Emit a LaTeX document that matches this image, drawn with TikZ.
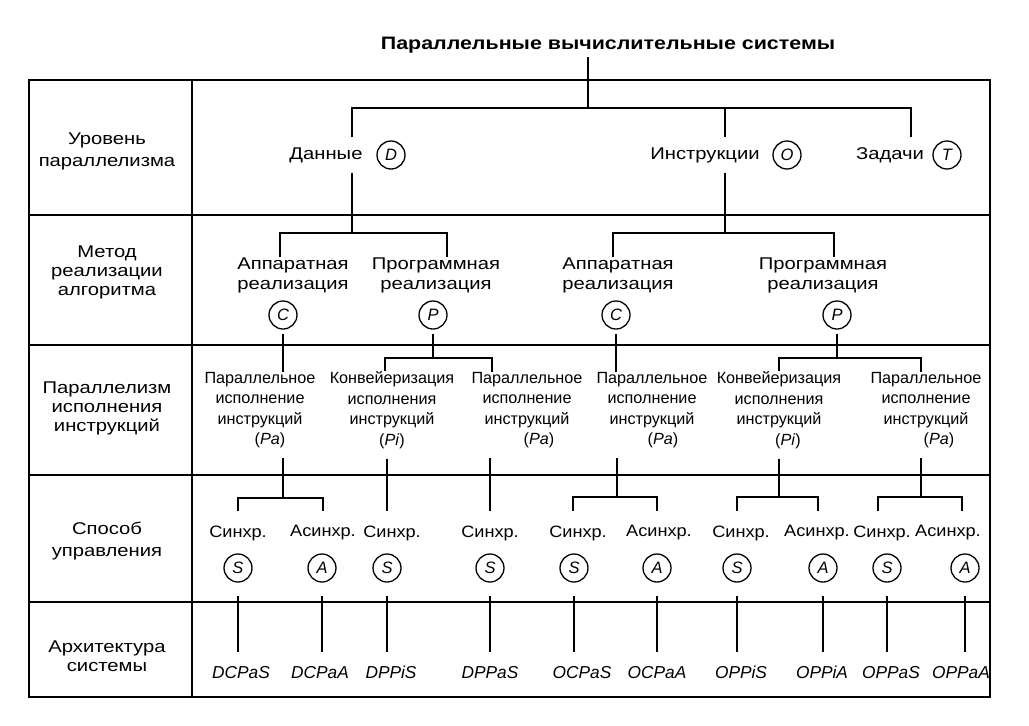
\documentclass[tikz,border=0pt]{standalone}
\usepackage{fontspec}
\setmainfont{Liberation Sans}
\newfontfamily\widefont[FakeStretch=1.19]{Liberation Sans}
\newfontfamily\midfont[FakeStretch=1.1]{Liberation Sans}
\begin{document}
\begin{tikzpicture}[x=1pt,y=-1pt,
 ln/.style={line width=1.6pt},
 frame/.style={line width=2pt},
 rowln/.style={line width=1.4pt},
 txt/.style={font=\fontsize{16.2}{20.5}\selectfont, align=center, inner sep=0pt},
 wtxt/.style={txt, font=\widefont\fontsize{17}{20}\selectfont},
 hd/.style={txt, font=\widefont\fontsize{17}{19}\selectfont},
 hdw/.style={txt, font=\widefont\fontsize{17}{22}\selectfont},
 ttl/.style={font=\widefont\bfseries\fontsize{18}{21}\selectfont, inner sep=4pt},
 circ/.style={circle, draw, line width=1.3pt, minimum size=28pt, inner sep=0pt, font=\itshape\fontsize{16.5}{16.5}\selectfont},
 r1/.style={wtxt, minimum height=35pt},
 r4/.style={wtxt, minimum height=44pt, font=\midfont\fontsize{16.5}{20}\selectfont},
 r5/.style={inner sep=0pt, minimum height=40pt, text height=12.5pt, text depth=0pt, font=\itshape\fontsize{17.3}{20}\selectfont},
]
\useasboundingbox (0,0) rectangle (1029,726);

% table
\draw[frame] (29,80) rectangle (990,697);
\draw[rowln] (192,80) -- (192,697);
\foreach \yy in {215,345,475,602} \draw[rowln] (29,\yy) -- (990,\yy);

% title
\node[ttl] (title) at (608,45) {Параллельные вычислительные системы};

% left column
\node[hdw] (h1) at (107,151) {Уровень\\параллелизма};
\node[hd] (h2) at (107,272) {Метод\\реализации\\алгоритма};
\node[hd] (h3) at (107,408) {Параллелизм\\исполнения\\инструкций};
\node[hdw] (h4) at (107,541) {Способ\\управления};
\node[hd] (h5) at (107,656) {Архитектура\\системы};

% row 1
\node[r1] (dan) at (326,155) {Данные};
\node[circ] (cD) at (391,155) {D};
\node[r1] (ins) at (705,155) {Инструкции};
\node[circ] (cO) at (787,155) {O};
\node[r1] (zad) at (890,155) {Задачи};
\node[circ] (cT) at (947,155) {T};

% row 2
\node[wtxt] (ap1) at (293,275) {Аппаратная\\реализация};
\node[circ] (cC1) at (283,315) {C};
\node[wtxt] (pr1) at (436,275) {Программная\\реализация};
\node[circ] (cP1) at (433,315) {P};
\node[wtxt] (ap2) at (618,275) {Аппаратная\\реализация};
\node[circ] (cC2) at (616,315) {C};
\node[wtxt] (pr2) at (823,275) {Программная\\реализация};
\node[circ] (cP2) at (837,315) {P};

% row 3
\node[txt] (pe1) at (260,410) {Параллельное\\исполнение\\инструкций\\\hspace*{20pt}(\textit{Pa})};
\node[txt] (pe2) at (392,410) {Конвейеризация\\исполнения\\инструкций\\(\textit{Pi})};
\node[txt] (pe3) at (527,410) {Параллельное\\исполнение\\инструкций\\\hspace*{24pt}(\textit{Pa})};
\node[txt] (pe4) at (652,410) {Параллельное\\исполнение\\инструкций\\\hspace*{22pt}(\textit{Pa})};
\node[txt] (pe5) at (779,410) {Конвейеризация\\исполнения\\инструкций\\\hspace*{18pt}(\textit{Pi})};
\node[txt] (pe6) at (926,410) {Параллельное\\исполнение\\инструкций\\\hspace*{26pt}(\textit{Pa})};

% row 4
\node[r4] (s1) at (238,533) {Синхр.};
\node[r4] (a1) at (323,533) {Асинхр.};
\node[r4] (s2) at (392,533) {Синхр.};
\node[r4] (s3) at (490,533) {Синхр.};
\node[r4] (s4) at (578,533) {Синхр.};
\node[r4] (a4) at (659,533) {Асинхр.};
\node[r4] (s5) at (741,533) {Синхр.};
\node[r4] (a5) at (817,533) {Асинхр.};
\node[r4] (s6) at (882,533) {Синхр.};
\node[r4] (a6) at (948,533) {Асинхр.};

\node[circ] (cs1) at (238,568) {S};
\node[circ] (ca1) at (322,568) {A};
\node[circ] (cs2) at (387,568) {S};
\node[circ] (cs3) at (490,568) {S};
\node[circ] (cs4) at (574,568) {S};
\node[circ] (ca4) at (657,568) {A};
\node[circ] (cs5) at (737,568) {S};
\node[circ] (ca5) at (823,568) {A};
\node[circ] (cs6) at (887,568) {S};
\node[circ] (ca6) at (965,568) {A};

% row 5
\node[r5] (l1) at (241,672) {DCPaS};
\node[r5] (l2) at (320,672) {DCPaA};
\node[r5] (l3) at (391,672) {DPPiS};
\node[r5] (l4) at (490,672) {DPPaS};
\node[r5] (l5) at (582,672) {OCPaS};
\node[r5] (l6) at (657,672) {OCPaA};
\node[r5] (l7) at (741,672) {OPPiS};
\node[r5] (l8) at (822,672) {OPPiA};
\node[r5] (l9) at (891,672) {OPPaS};
\node[r5] (l10) at (961,672) {OPPaA};

% tree level 1
\coordinate (j0) at (588,108);
\coordinate (jD) at (352,108);
\coordinate (jO) at (725,108);
\coordinate (jT) at (911,108);
\draw[ln] (title.south -| j0) -- (j0);
\draw[ln] (jD |- dan.north) -- (jD) -- (jT) -- (jT |- zad.north);
\draw[ln] (jO) -- (jO |- ins.north);

% tree level 2
\coordinate (kD) at (352,233);
\coordinate (kDl) at (280,233);
\coordinate (kDr) at (447,233);
\draw[ln] (jD |- dan.south) -- (kD);
\draw[ln] (kDl |- ap1.north) -- (kDl) -- (kDr) -- (kDr |- pr1.north);
\coordinate (kO) at (725,233);
\coordinate (kOl) at (613,233);
\coordinate (kOr) at (834,233);
\draw[ln] (jO |- ins.south) -- (kO);
\draw[ln] (kOl |- ap2.north) -- (kOl) -- (kOr) -- (kOr |- pr2.north);

% tree level 3
\draw[ln,shorten <=4pt] (cC1.south) -- (cC1.south |- pe1.north);
\coordinate (mP1) at (433,358);
\coordinate (mP1l) at (385,358);
\coordinate (mP1r) at (492,358);
\draw[ln,shorten <=4pt] (cP1.south) -- (mP1);
\draw[ln] (mP1l |- pe2.north) -- (mP1l) -- (mP1r) -- (mP1r |- pe3.north);
\draw[ln,shorten <=4pt] (cC2.south) -- (cC2.south |- pe4.north);
\coordinate (mP2) at (837,358);
\coordinate (mP2l) at (779,358);
\coordinate (mP2r) at (921,358);
\draw[ln,shorten <=4pt] (cP2.south) -- (mP2);
\draw[ln] (mP2l |- pe5.north) -- (mP2l) -- (mP2r) -- (mP2r |- pe6.north);

% tree level 4
\coordinate (n1) at (283,498);
\coordinate (n1l) at (238,498);
\coordinate (n1r) at (323,498);
\draw[ln,shorten <=10pt] (n1 |- pe1.south) -- (n1);
\draw[ln] (n1l |- s1.north) -- (n1l) -- (n1r) -- (n1r |- a1.north);
\draw[ln,shorten <=10pt] (pe2.south -| cs2) -- (s2.north -| cs2);
\draw[ln,shorten <=10pt] (pe3.south -| cs3) -- (s3.north -| cs3);
\coordinate (n4) at (617,497);
\coordinate (n4l) at (573,497);
\coordinate (n4r) at (657,497);
\draw[ln,shorten <=10pt] (n4 |- pe4.south) -- (n4);
\draw[ln] (n4l |- s4.north) -- (n4l) -- (n4r) -- (n4r |- a4.north);
\coordinate (n5) at (779,497);
\coordinate (n5l) at (737,497);
\coordinate (n5r) at (818,497);
\draw[ln,shorten <=10pt] (n5 |- pe5.south) -- (n5);
\draw[ln] (n5l |- s5.north) -- (n5l) -- (n5r) -- (n5r |- a5.north);
\coordinate (n6) at (921,497);
\coordinate (n6l) at (878,497);
\coordinate (n6r) at (962,497);
\draw[ln,shorten <=10pt] (n6 |- pe6.south) -- (n6);
\draw[ln] (n6l |- s6.north) -- (n6l) -- (n6r) -- (n6r |- a6.north);

% level 5
\foreach \c/\l in {cs1/l1,ca1/l2,cs2/l3,cs3/l4,cs4/l5,ca4/l6,cs5/l7,ca5/l8,cs6/l9,ca6/l10}
  \draw[ln,shorten <=13pt] (\c.south) -- (\c.south |- \l.north);
\end{tikzpicture}
\end{document}
